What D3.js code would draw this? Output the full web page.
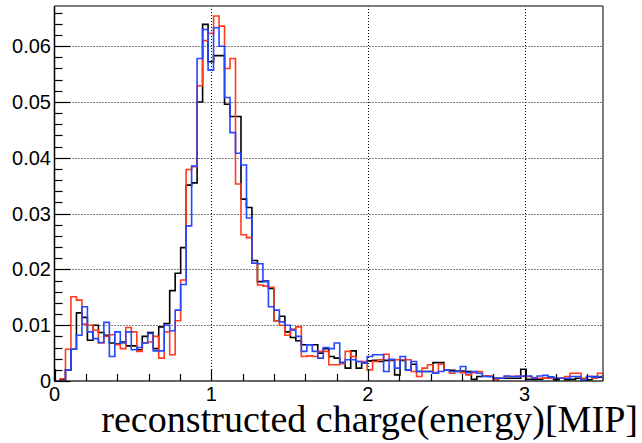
<!DOCTYPE html>
<html>
<head>
<meta charset="utf-8">
<script src="https://cdn.jsdelivr.net/npm/d3@7"></script>
<style>
  html, body { margin: 0; padding: 0; background: #ffffff; }
  svg { display: block; }
</style>
</head>
<body>
<svg id="chart" width="642" height="443"></svg>
<script>
// ---------------- DATA ----------------
const xMin = 0;
const xMax = 3.5;
const nBins = 100;
const yMax = 0.0672;

const seriesNames = ["black", "red", "blue"];

const blackValues = [
  0.0000, 0.0003, 0.0020, 0.0057, 0.0122, 0.0114, 0.0073, 0.0100, 0.0087, 0.0082,
  0.0068, 0.0066, 0.0070, 0.0063, 0.0063, 0.0056, 0.0080, 0.0087, 0.0058, 0.0097,
  0.0103, 0.0162, 0.0193, 0.0239, 0.0351, 0.0355, 0.0500, 0.0639, 0.0572, 0.0583,
  0.0583, 0.0496, 0.0474, 0.0474, 0.0326, 0.0311, 0.0216, 0.0178, 0.0179, 0.0166,
  0.0108, 0.0116, 0.0088, 0.0078, 0.0072, 0.0065, 0.0065, 0.0065, 0.0050, 0.0058,
  0.0044, 0.0041, 0.0033, 0.0023, 0.0054, 0.0023, 0.0032, 0.0036, 0.0037, 0.0035,
  0.0037, 0.0037, 0.0011, 0.0037, 0.0020, 0.0030, 0.0017, 0.0017, 0.0017, 0.0033,
  0.0033, 0.0020, 0.0019, 0.0018, 0.0018, 0.0017, 0.0003, 0.0008, 0.0009, 0.0008,
  0.0005, 0.0005, 0.0005, 0.0005, 0.0005, 0.0021, 0.0003, 0.0003, 0.0003, 0.0005,
  0.0007, 0.0002, 0.0005, 0.0002, 0.0003, 0.0005, 0.0002, 0.0002, 0.0008, 0.0007
];

const redValues = [
  0.0000, 0.0004, 0.0057, 0.0151, 0.0145, 0.0102, 0.0100, 0.0091, 0.0068, 0.0080,
  0.0083, 0.0065, 0.0058, 0.0096, 0.0088, 0.0053, 0.0068, 0.0070, 0.0080, 0.0041,
  0.0088, 0.0047, 0.0108, 0.0181, 0.0379, 0.0384, 0.0529, 0.0610, 0.0623, 0.0654,
  0.0636, 0.0560, 0.0578, 0.0353, 0.0262, 0.0257, 0.0211, 0.0172, 0.0170, 0.0168,
  0.0108, 0.0100, 0.0082, 0.0093, 0.0097, 0.0044, 0.0045, 0.0044, 0.0053, 0.0053,
  0.0029, 0.0029, 0.0031, 0.0053, 0.0044, 0.0035, 0.0035, 0.0020, 0.0035, 0.0038,
  0.0048, 0.0038, 0.0038, 0.0038, 0.0038, 0.0017, 0.0008, 0.0023, 0.0029, 0.0015,
  0.0030, 0.0020, 0.0014, 0.0017, 0.0015, 0.0011, 0.0015, 0.0017, 0.0009, 0.0009,
  0.0002, 0.0005, 0.0008, 0.0008, 0.0009, 0.0008, 0.0008, 0.0006, 0.0005, 0.0005,
  0.0005, 0.0005, 0.0005, 0.0008, 0.0014, 0.0014, 0.0005, 0.0008, 0.0005, 0.0014
];

const blueValues = [
  0.0000, 0.0000, 0.0020, 0.0057, 0.0082, 0.0133, 0.0088, 0.0076, 0.0069, 0.0105,
  0.0044, 0.0088, 0.0068, 0.0088, 0.0056, 0.0060, 0.0068, 0.0085, 0.0054, 0.0054,
  0.0100, 0.0090, 0.0127, 0.0173, 0.0278, 0.0385, 0.0578, 0.0630, 0.0557, 0.0633,
  0.0600, 0.0508, 0.0445, 0.0408, 0.0387, 0.0292, 0.0211, 0.0210, 0.0178, 0.0133,
  0.0127, 0.0106, 0.0100, 0.0091, 0.0080, 0.0053, 0.0065, 0.0053, 0.0041, 0.0060,
  0.0058, 0.0068, 0.0033, 0.0038, 0.0038, 0.0035, 0.0032, 0.0044, 0.0047, 0.0047,
  0.0017, 0.0039, 0.0023, 0.0044, 0.0020, 0.0035, 0.0017, 0.0017, 0.0017, 0.0014,
  0.0017, 0.0020, 0.0017, 0.0017, 0.0026, 0.0015, 0.0017, 0.0014, 0.0008, 0.0008,
  0.0005, 0.0005, 0.0009, 0.0008, 0.0008, 0.0009, 0.0009, 0.0005, 0.0009, 0.0010,
  0.0007, 0.0005, 0.0005, 0.0005, 0.0008, 0.0008, 0.0002, 0.0008, 0.0007, 0.0008
];

const xTickValues = [0, 1, 2, 3];
const xTickLabels = ["0", "1", "2", "3"];
const yTickValues = [0, 0.01, 0.02, 0.03, 0.04, 0.05, 0.06];
const yTickLabels = ["0", "0.01", "0.02", "0.03", "0.04", "0.05", "0.06"];
const xMinorStep = 0.2;
const yMinorStep = 0.002;
const xTitle = "reconstructed charge(energy)[MIP]";

// ---------------- LAYOUT / STYLE ----------------
const frame = { left: 54.5, right: 603, top: 6, bottom: 381 };
const colors = { black: "#000000", red: "#ff3b1c", blue: "#2447ff" };

const svg = d3.select("#chart");
const x = d3.scaleLinear().domain([xMin, xMax]).range([frame.left, frame.right]);
const y = d3.scaleLinear().domain([0, yMax]).range([frame.bottom, frame.top]);

// grid (dotted)
const grid = svg.append("g").attr("stroke", "#000").attr("stroke-width", 1)
  .attr("stroke-dasharray", "1,2").attr("fill", "none");
xTickValues.filter(v => v > xMin).forEach(v => {
  grid.append("line").attr("x1", Math.round(x(v)) + 0.5).attr("x2", Math.round(x(v)) + 0.5)
    .attr("y1", frame.top).attr("y2", frame.bottom);
});
yTickValues.filter(v => v > 0).forEach(v => {
  grid.append("line").attr("y1", Math.round(y(v)) + 0.5).attr("y2", Math.round(y(v)) + 0.5)
    .attr("x1", frame.left).attr("x2", frame.right);
});

// histograms as step lines
const binWidth = (xMax - xMin) / nBins;
function stepPoints(values) {
  const pts = [[xMin, 0]];
  values.forEach((v, i) => {
    pts.push([xMin + i * binWidth, v]);
    pts.push([xMin + (i + 1) * binWidth, v]);
  });
  pts.push([xMax, 0]);
  return pts;
}
const line = d3.line().x(d => x(d[0])).y(d => y(d[1]));
const allSeries = { black: blackValues, red: redValues, blue: blueValues };
seriesNames.forEach(name => {
  svg.append("path")
    .attr("d", line(stepPoints(allSeries[name])))
    .attr("fill", "none")
    .attr("stroke", colors[name])
    .attr("stroke-width", 1.6)
    .attr("stroke-linejoin", "miter");
});

// frame
svg.append("line").attr("x1", frame.left).attr("x2", frame.right)
  .attr("y1", frame.top).attr("y2", frame.top).attr("stroke", "#555").attr("stroke-width", 1.5);
svg.append("line").attr("x1", frame.right).attr("x2", frame.right)
  .attr("y1", frame.top).attr("y2", frame.bottom).attr("stroke", "#555").attr("stroke-width", 1.5);
// axes lines
svg.append("line").attr("x1", frame.left).attr("x2", frame.right)
  .attr("y1", frame.bottom).attr("y2", frame.bottom).attr("stroke", "#333").attr("stroke-width", 1.5);
svg.append("line").attr("x1", frame.left).attr("x2", frame.left)
  .attr("y1", frame.top).attr("y2", frame.bottom).attr("stroke", "#000").attr("stroke-width", 1.5);

// y ticks (inside)
const ticks = svg.append("g").attr("stroke", "#000").attr("stroke-width", 1.2);
d3.range(0, yMax + 1e-9, yMinorStep).forEach(v => {
  const major = yTickValues.some(t => Math.abs(t - v) < 1e-9);
  const yy = Math.round(y(v)) + 0.5;
  ticks.append("line").attr("x1", frame.left).attr("x2", frame.left + (major ? 16 : 8))
    .attr("y1", yy).attr("y2", yy);
});
// x ticks (inside)
d3.range(0, xMax + 1e-9, xMinorStep).forEach(v => {
  const major = xTickValues.some(t => Math.abs(t - v) < 1e-9);
  const xx = Math.round(x(v)) + 0.5;
  ticks.append("line").attr("x1", xx).attr("x2", xx)
    .attr("y1", frame.bottom).attr("y2", frame.bottom - (major ? 12 : 7));
});

// tick labels
const labelFont = "'Liberation Sans', Arial, Helvetica, sans-serif";
yTickValues.forEach((v, i) => {
  svg.append("text").attr("x", 51).attr("y", y(v) + 7)
    .attr("text-anchor", "end").attr("font-family", labelFont).attr("font-size", 20)
    .attr("fill", "#000").text(yTickLabels[i]);
});
xTickValues.forEach((v, i) => {
  svg.append("text").attr("x", x(v)).attr("y", 401)
    .attr("text-anchor", "middle").attr("font-family", labelFont).attr("font-size", 20)
    .attr("fill", "#000").text(xTickLabels[i]);
});

// axis title
const title = svg.append("text").attr("x", 638).attr("y", 432)
  .attr("text-anchor", "end").attr("font-family", "'Liberation Serif', 'Times New Roman', serif")
  .attr("font-size", 35).attr("fill", "#000").text(xTitle);
const w = title.node().getComputedTextLength();
const targetW = 537;
if (w > 0) title.attr("font-size", 35 * targetW / w);
</script>
</body>
</html>
